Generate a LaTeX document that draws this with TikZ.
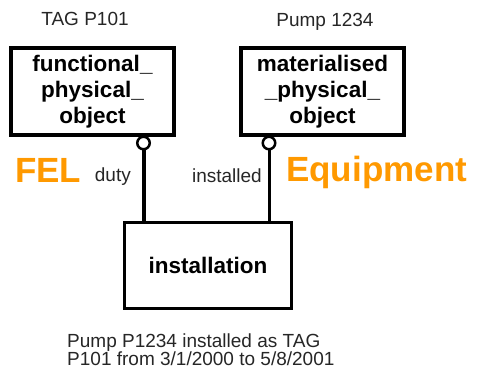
\documentclass[tikz,border=0pt]{standalone}
\usepackage{fontspec}
\setmainfont{Liberation Sans}
\usetikzlibrary{calc,positioning}
\definecolor{felorange}{RGB}{255,153,0}

\begin{document}
\begin{tikzpicture}[x=1pt,y=1pt,
    entity/.style={draw,line width=4pt,minimum width=163pt,minimum height=87pt,inner sep=0pt,align=center,font=\fontsize{22.5}{26}\selectfont\bfseries},
    linkbox/.style={draw,line width=3pt,minimum width=167pt,minimum height=86pt,inner sep=0pt,font=\fontsize{22.5}{26}\selectfont\bfseries},
    ring/.style={circle,draw,fill=white,line width=2.5pt,minimum size=12.5pt,inner sep=0pt},
    tag/.style={font=\fontsize{19}{15}\selectfont,text=black!85,inner sep=0pt},
    side/.style={font=\fontsize{35}{35}\selectfont\bfseries,text=felorange,inner sep=0pt}]
    \useasboundingbox (0,0) rectangle (479,374);
    \node[entity] (fpo) at (92.5,282.5) {functional\_\\physical\_\\object};
    \node[entity] (mpo) at (322.5,282.5) {materialised\\\_physical\_\\object};
    \node[linkbox] (inst) at (208,108.5) {installation};
    \node[tag,anchor=base] (fpotag) at (85,348) {TAG P101};
    \node[tag,anchor=base] (mpotag) at (325,347) {Pump 1234};
    \node[ring] (dutyring) at ($(fpo.south east)+(-32.5,-6)$) {};
    \node[ring] (instring) at ($(mpo.south west)+(30,-6)$) {};
    \draw[line width=4pt] (dutyring) -- (dutyring |- inst.north);
    \draw[line width=3pt] (instring) -- (instring |- inst.north);
    \node[tag,anchor=base east] (dutylbl) at (131,192) {duty};
    \node[tag,anchor=base east] (instlbl) at (262,191) {installed};
    \node[side,anchor=base west] (fel) at (15,191) {FEL};
    \node[side,anchor=base west] (equip) at (286,192) {Equipment};
    \node[tag,anchor=base west,align=left] (note) at (67,8) {Pump P1234 installed as TAG\\P101 from 3/1/2000 to 5/8/2001};
\end{tikzpicture}
\end{document}
